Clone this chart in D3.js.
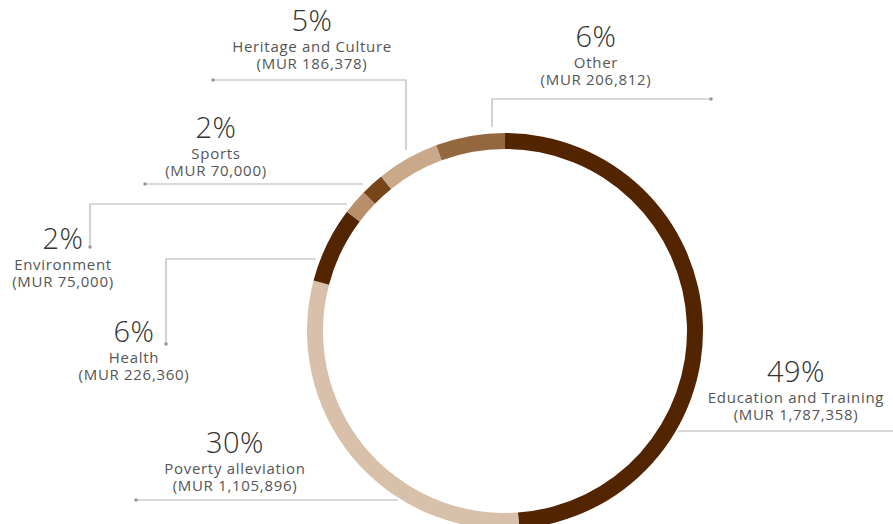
<!DOCTYPE html>
<html>
<head>
<meta charset="utf-8">
<script src="https://cdn.jsdelivr.net/npm/d3@7"></script>
<style>
  html, body { margin: 0; padding: 0; background: #fff; }
  svg { display: block; }
  .pct { font-family: 'Open Sans', sans-serif; font-weight: 300; font-size: 29px; letter-spacing: 0.5px; fill: #333; }
  .lbl { font-family: 'Open Sans', sans-serif; font-weight: 400; font-size: 15px; letter-spacing: 0.7px; fill: #555; }
</style>
</head>
<body>
<script>
'use strict';

// chart data, clockwise from 12 o'clock
const categories = ['Education and Training', 'Poverty alleviation', 'Health', 'Environment', 'Sports', 'Heritage and Culture', 'Other'];
const amounts    = [1787358, 1105896, 226360, 75000, 70000, 186378, 206812];
const percentLabels = ['49%', '30%', '6%', '2%', '2%', '5%', '6%'];
const amountLabels  = ['(MUR 1,787,358)', '(MUR 1,105,896)', '(MUR 226,360)', '(MUR 75,000)', '(MUR 70,000)', '(MUR 186,378)', '(MUR 206,812)'];

const palette = ['#532400', '#d8c0aa', '#532400', '#b98e6b', '#774618', '#c9a98a', '#93683f'];

// label block centres (x, baseline of percent) and leader polylines
const labelPos = [[796, 382], [235, 453], [134, 342], [63, 249], [216, 138], [312, 31], [596, 47]];
const leaders = [
  [[678, 431], [893, 431]],
  [[398, 500], [136, 500]],
  [[316, 259], [166, 259], [166, 344]],
  [[347, 204], [90, 204], [90, 247]],
  [[363, 184], [145, 184]],
  [[406, 150], [406, 80], [213, 80]],
  [[492, 127], [492, 99], [711, 99]]
];
const dotIdx = [null, 1, 2, 2, 1, 2, 2];

const W = 893, H = 524;
const cx = 505, cy = 331, rOuter = 198, rInner = 182;

const svg = d3.select('body').append('svg').attr('width', W).attr('height', H);

const pie = d3.pie().sort(null).value(d => d)(amounts);
const arc = d3.arc().innerRadius(rInner).outerRadius(rOuter);

svg.append('g')
  .attr('transform', 'translate(' + cx + ',' + cy + ')')
  .selectAll('path')
  .data(pie)
  .enter()
  .append('path')
  .attr('d', arc)
  .attr('fill', (d, i) => palette[i]);

const line = d3.line();
const ann = svg.append('g');

leaders.forEach((pts, i) => {
  ann.append('path')
    .attr('d', line(pts))
    .attr('fill', 'none')
    .attr('stroke', '#b5b5b5')
    .attr('stroke-width', 1.2);
  if (dotIdx[i] !== null) {
    const p = pts[dotIdx[i]];
    ann.append('circle').attr('cx', p[0]).attr('cy', p[1]).attr('r', 1.8).attr('fill', '#999');
  }
});

categories.forEach((c, i) => {
  const [x, y] = labelPos[i];
  const g = ann.append('g').attr('text-anchor', 'middle');
  g.append('text').attr('class', 'pct').attr('x', x).attr('y', y).text(percentLabels[i]);
  g.append('text').attr('class', 'lbl').attr('x', x).attr('y', y + 21).text(c);
  g.append('text').attr('class', 'lbl').attr('x', x).attr('y', y + 38).text(amountLabels[i]);
});
</script>
</body>
</html>
